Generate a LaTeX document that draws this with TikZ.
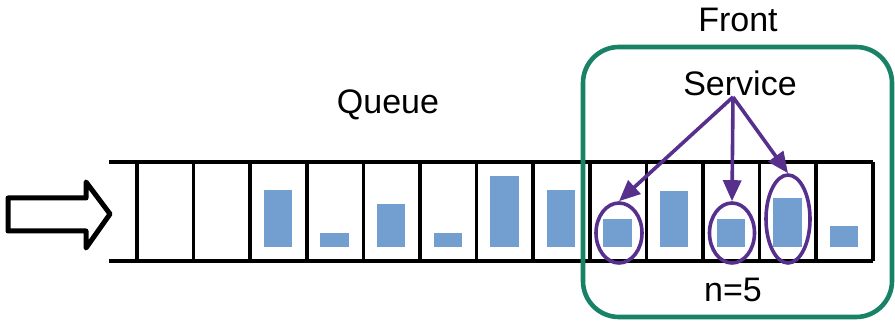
\documentclass[tikz,border=0pt]{standalone}
\usepackage{fontspec}
\setmainfont{Liberation Sans}
\usetikzlibrary{arrows.meta,shapes.geometric}
\definecolor{barblue}{RGB}{114,159,207}
\definecolor{svpurple}{RGB}{86,48,140}
\definecolor{frgreen}{RGB}{24,130,102}
\tikzset{
  lbl/.style={font=\fontsize{34}{40}\selectfont, inner sep=0pt, anchor=center},
  qline/.style={line width=4.2pt, black},
  bar/.style={fill=barblue, draw=none},
  sel/.style={draw=svpurple, line width=3.6pt, ellipse, inner sep=0pt, fill=none},
  svarrow/.style={draw=svpurple, line width=3.6pt, -{Triangle[length=21pt,width=18pt]}},
}
\begin{document}
\begin{tikzpicture}[x=1pt,y=-1pt]
\useasboundingbox (0,0) rectangle (895,323);
% queue lines
\draw[qline] (109,162) -- (873,162);
\draw[qline] (109,261) -- (873,261);
\foreach \i in {0,...,13} {
  \draw[line width=3.6pt] ({137+\i*56.6},162) -- ({137+\i*56.6},261);
}
% bars (cell index, top)
\foreach \c/\t in {2/190,3/233,4/204,5/233,6/176,7/190,8/219,9/191,10/219,11/198,12/226} {
  \fill[bar] ({137+\c*56.6+13.5},\t) rectangle ({137+\c*56.6+42},247);
}
% input arrow
\draw[line width=5pt, line join=round] (8,198) -- (86,198) -- (86,182) -- (110,214) -- (86,248) -- (86,231) -- (8,231) -- cycle;
% texts
\node[lbl] (queue) at (388,105) {Queue};
\node[lbl] (front) at (738,20) {Front};
\node[lbl] (svc) at (740,83) {Service};
\node[lbl] (n5) at (733,290) {n=5};
% front box
\draw[frgreen, line width=4.6pt, rounded corners=36pt] (583,47) rectangle (892,317);
% selection ellipses
\node[sel, minimum width=46pt, minimum height=60pt] (e1) at (619,233) {};
\node[sel, minimum width=45pt, minimum height=60pt] (e2) at (732,233) {};
\node[sel, minimum width=44pt, minimum height=88pt] (e3) at (788,219) {};
\coordinate (src) at (733,97);
\draw[svarrow] (src) -- (e1.north);
\draw[svarrow] (src) -- (e2.north);
\draw[svarrow] (src) -- (e3.north);
\end{tikzpicture}
\end{document}
